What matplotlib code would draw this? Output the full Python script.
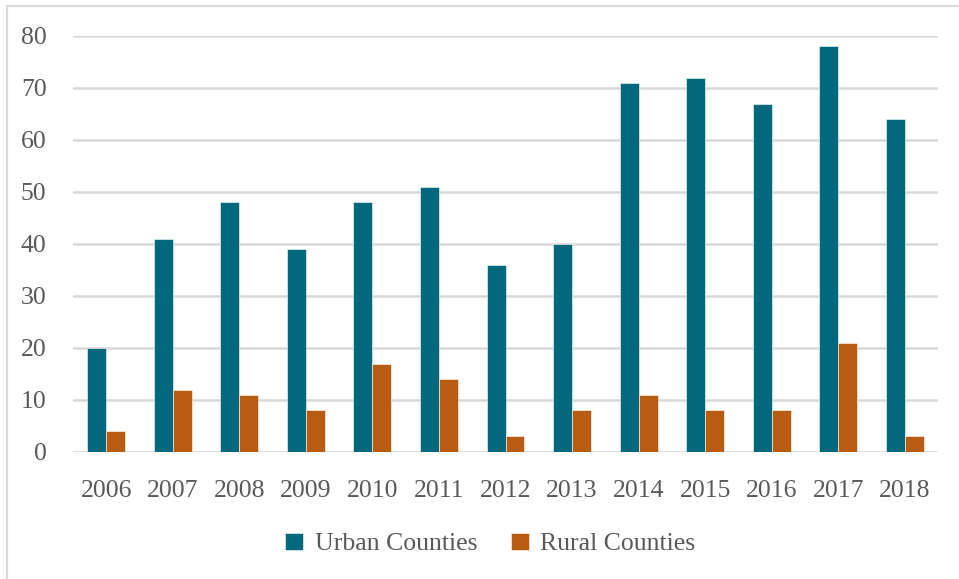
import matplotlib
matplotlib.use("Agg")
import matplotlib.pyplot as plt
import numpy as np
from matplotlib.patches import Rectangle

years = ['2006', '2007', '2008', '2009', '2010', '2011', '2012',
         '2013', '2014', '2015', '2016', '2017', '2018']
urban = [20, 41, 48, 39, 48, 51, 36, 40, 71, 72, 67, 78, 64]
rural = [4, 12, 11, 8, 17, 14, 3, 8, 11, 8, 8, 21, 3]

teal = '#02687D'
orange = '#B85C11'
textc = '#595959'

plt.rcParams['font.family'] = ['Liberation Serif', 'DejaVu Serif']

W, H = 959, 579
fig = plt.figure(figsize=(W / 100, H / 100), dpi=100)
ax = fig.add_axes([73 / W, 1 - 452 / H, (938 - 73) / W, (452 - 36) / H])

x = np.arange(len(years))
bw = 0.285
ax.bar(x - bw / 2, urban, bw, color=teal, edgecolor='white', linewidth=0.4,
       label='Urban Counties', zorder=3)
ax.bar(x + bw / 2, rural, bw, color=orange, edgecolor='white', linewidth=0.4,
       label='Rural Counties', zorder=3)

ax.set_xlim(-0.5, len(years) - 0.5)
ax.set_ylim(0, 80)
ax.set_yticks(range(0, 81, 10))
ax.set_xticks(x)
ax.set_xticklabels(years)
ax.yaxis.grid(True, color='#D9D9D9', linewidth=1.8, zorder=0)
for s in ax.spines.values():
    s.set_visible(False)
ax.tick_params(length=0, labelsize=18.5, colors=textc)
ax.tick_params(axis='x', pad=20)
ax.tick_params(axis='y', pad=19)

leg = fig.legend(loc='center', bbox_to_anchor=(0.5115, 1 - 544 / H), ncol=2,
                 frameon=False, fontsize=18.5, handlelength=0.7, handleheight=0.7,
                 handletextpad=0.45, columnspacing=1.3)
for t in leg.get_texts():
    t.set_color(textc)

fig.patches.append(Rectangle((6.5 / W, -0.1), 1.2, 1.1 - 6.5 / H,
                             transform=fig.transFigure, fill=False,
                             edgecolor='#D9D9D9', linewidth=1.6))

fig.savefig('out.png', dpi=100)
